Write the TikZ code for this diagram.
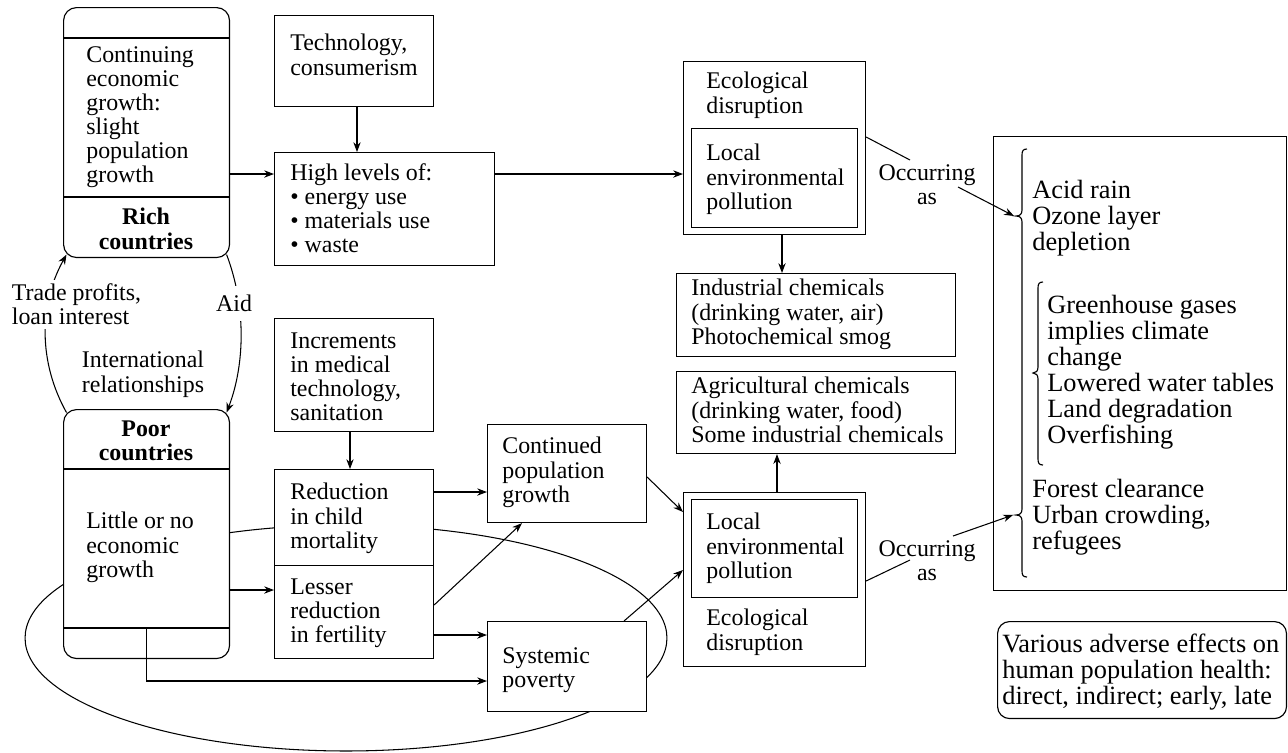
\documentclass[tikz,border=0pt]{standalone}
\usepackage{fontspec}
\setmainfont{Liberation Serif}
\usetikzlibrary{arrows.meta,calc}
\newcommand\fsmain{\fontsize{13.6pt}{13.7pt}\selectfont}
\newcommand\fsbig{\fontsize{15pt}{14.8pt}\selectfont}
\tikzset{
  box/.style={draw,fill=white,line width=0.65pt,anchor=north west,inner sep=0pt},
  rbox/.style={box,rounded corners=0.26cm},
  txt/.style={anchor=north west,inner sep=0pt,align=left,font=\fsmain},
  bigtxt/.style={txt,font=\fsbig},
  arr/.style={line width=0.6pt,-{Stealth[length=5.6pt,width=4.2pt]}},
  lnk/.style={line width=0.6pt},
}
\begin{document}
\begin{tikzpicture}[x=0.02cm,y=-0.02cm]
\useasboundingbox (0,0) rectangle (1288,752);
% loop behind the poor-country boxes
\draw[lnk] (346,638) ellipse [x radius=6.42cm, y radius=2.26cm];
% boxes
\node[rbox,minimum width=3.32cm,minimum height=5cm] (rich) at (63,7) {};
\node[rbox,minimum width=3.32cm,minimum height=4.98cm] (poor) at (63,409) {};
\node[box,minimum width=3.18cm,minimum height=1.82cm] (tech) at (274,15) {};
\node[box,minimum width=4.4cm,minimum height=2.26cm] (high) at (274,152) {};
\node[box,minimum width=3.18cm,minimum height=2.26cm] (incr) at (274,318) {};
\node[box,minimum width=3.18cm,minimum height=1.92cm] (red) at (274,469) {};
\node[box,minimum width=3.18cm,minimum height=1.86cm] (less) at (274,565) {};
\node[box,minimum width=3.18cm,minimum height=1.96cm] (cont) at (487,424) {};
\node[box,minimum width=3.18cm,minimum height=1.8cm] (syst) at (487,621) {};
\node[box,minimum width=3.64cm,minimum height=3.46cm] (ecoA) at (683,61) {};
\node[box,minimum width=3.32cm,minimum height=1.98cm] (ecoAin) at (691,128) {};
\node[box,minimum width=3.64cm,minimum height=3.48cm] (ecoB) at (683,492) {};
\node[box,minimum width=3.32cm,minimum height=1.96cm] (ecoBin) at (691,499) {};
\node[box,minimum width=5.58cm,minimum height=1.66cm] (ind) at (676,273) {};
\node[box,minimum width=5.58cm,minimum height=1.64cm] (agr) at (676,371) {};
\node[box,minimum width=5.86cm,minimum height=9.08cm] (effects) at (993,136) {};
\node[rbox,rounded corners=0.24cm,minimum width=5.78cm,minimum height=1.94cm] (health) at (997,621) {};
% dividers
\draw[line width=0.65pt] (rich.west |- 0,38) -- (rich.east |- 0,38);
\draw[line width=0.65pt] (rich.west |- 0,197) -- (rich.east |- 0,197);
\draw[line width=0.65pt] (poor.west |- 0,469) -- (poor.east |- 0,469);
\draw[line width=0.65pt] (poor.west |- 0,628) -- (poor.east |- 0,628);
% international relationships
\draw[arr] ($(poor.north west)+(3.5,3.5)$) .. controls +(-28,-50) and +(-28,50) .. ($(rich.south west)+(3.5,-3.5)$);
\draw[arr] ($(rich.south east)+(-3.5,-3.5)$) .. controls +(19,50) and +(19,-50) .. ($(poor.north east)+(-3.5,3.5)$);
\node[txt,fill=white,inner sep=2pt] (trade) at (8,280) {Trade profits,\\loan interest};
\node[txt,fill=white,inner xsep=1pt,inner ysep=5pt] (aid) at (214,286) {Aid};
\node[txt,anchor=north,align=center] (intl) at (143,351) {International\\relationships};
% connectors
\draw[arr] (tech.south -| 357,0) -- (high.north -| 357,0);
\draw[arr] (rich.east |- 0,174) -- (high.west |- 0,174);
\draw[arr] (high.east |- 0,174) -- (ecoA.west |- 0,174);
\draw[arr] (ecoA.south -| 782,0) -- (ind.north -| 782,0);
\draw[arr] (ecoB.north -| 777,0) -- (agr.south -| 777,0);
\draw[arr] (incr.south -| 350,0) -- (red.north -| 350,0);
\draw[arr] (red.east |- 0,492) -- (cont.west |- 0,492);
\draw[arr] (less.east |- 0,635) -- (syst.west |- 0,635);
\draw[arr] (less.east |- 0,605) -- (cont.south -| 522,0);
\draw[arr] (poor.east |- 0,590) -- (less.west |- 0,590);
\draw[arr] (poor.center |- 0,628) ++(-0.5,0) |- (syst.west |- 0,681);
\draw[arr] (cont.east |- 0,477) -- (ecoB.west |- 0,512);
\draw[arr] (syst.north -| 624,0) -- (ecoB.west |- 0,570);
% occurring as
\coordinate (occAin) at (910,160);
\coordinate (occAout) at (958,187);
\coordinate (occBin) at (910,560);
\coordinate (occBout) at (953,536);
\coordinate (cuspA) at (1014,216);
\coordinate (cuspB) at (1013,515);
\node[txt,anchor=north,align=center] (occA) at (927,164) {Occurring\\as};
\node[txt,anchor=north,align=center] (occB) at (927,540) {Occurring\\as};
\draw[lnk] (ecoA.east |- 0,137) -- (occAin);
\draw[arr] (occAout) -- (cuspA);
\draw[lnk] (ecoB.east |- 0,581) -- (occBin);
\draw[arr] (occBout) -- (cuspB);
% braces
\draw[line width=0.65pt] (1027,149) .. controls (1023,149) and (1022,151) .. (1022,155) -- (1022,210)
  .. controls (1022,214) and (1020,216) .. (1016,216) .. controls (1020,216) and (1022,218) .. (1022,222)
  -- (1022,509) .. controls (1022,513) and (1020,515) .. (1016,515) .. controls (1020,515) and (1022,517) .. (1022,521)
  -- (1022,571) .. controls (1022,575) and (1023,577) .. (1027,577);
\draw[line width=0.65pt] (1043,282) .. controls (1039,282) and (1038,284) .. (1038,288) -- (1038,367)
  .. controls (1038,371) and (1036,373) .. (1033,373) .. controls (1036,373) and (1038,375) .. (1038,379)
  -- (1038,459) .. controls (1038,463) and (1039,465) .. (1043,465);
% texts
\node[txt] (richtxt) at (86,46) {Continuing\\economic\\growth:\\slight\\population\\growth};
\node[txt,anchor=north,align=center,font=\fsmain\bfseries] (richname) at (146,208) {Rich\\countries};
\node[txt,anchor=north,align=center,font=\fsmain\bfseries] (poorname) at (146,420) {Poor\\countries};
\node[txt] (poortxt) at (86,512) {Little or no\\economic\\growth};
\node[txt] (techtxt) at (290,34) {Technology,\\consumerism};
\node[txt] (hightxt) at (290,163) {High levels of:\\\textbullet\ energy use\\\textbullet\ materials use\\\textbullet\ waste};
\node[txt] (incrtxt) at (290,332) {Increments\\in medical\\technology,\\sanitation};
\node[txt] (redtxt) at (290,483) {Reduction\\in child\\mortality};
\node[txt] (lesstxt) at (290,578) {Lesser\\reduction\\in fertility};
\node[txt] (conttxt) at (502,437) {Continued\\population\\growth};
\node[txt] (systtxt) at (502,647) {Systemic\\poverty};
\node[txt] (ecoAtxt) at (706,72) {Ecological\\disruption};
\node[txt] (ecoAintxt) at (706,144) {Local\\environmental\\pollution};
\node[txt] (ecoBintxt) at (706,513) {Local\\environmental\\pollution};
\node[txt] (ecoBtxt) at (706,609) {Ecological\\disruption};
\node[txt] (indtxt) at (691,279) {Industrial chemicals\\(drinking water, air)\\Photochemical smog};
\node[txt] (agrtxt) at (691,377) {Agricultural chemicals\\(drinking water, food)\\Some industrial chemicals};
\node[bigtxt] (acid) at (1032,180) {Acid rain\\Ozone layer\\depletion};
\node[bigtxt] (green) at (1047,295) {Greenhouse gases\\implies climate\\change\\Lowered water tables\\Land degradation\\Overfishing};
\node[bigtxt] (forest) at (1032,479) {Forest clearance\\Urban crowding,\\refugees};
\node[bigtxt] (healthtxt) at (1002,634) {Various adverse effects on\\human population health:\\direct, indirect; early, late};
\end{tikzpicture}
\end{document}
